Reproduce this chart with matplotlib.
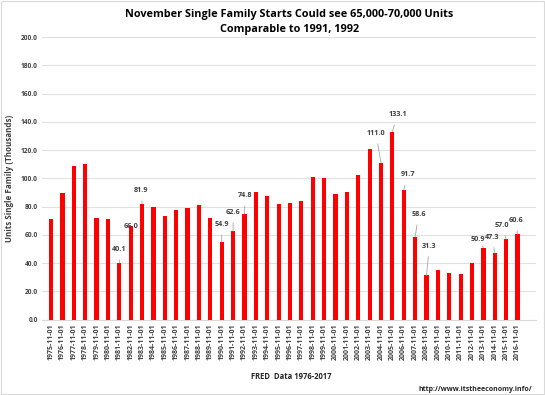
import numpy as np
import matplotlib
matplotlib.use('Agg')
import matplotlib.pyplot as plt
from matplotlib.patches import Rectangle

plt.rcParams['font.family'] = ['Open Sans', 'DejaVu Sans']

# November single family starts (thousands), FRED
years = list(range(1975, 2017))
dates = ["%d-11-01" % y for y in years]
starts = [71.3, 89.3, 108.9, 110.1, 71.8, 70.9, 40.1, 66.0, 81.9, 79.6,
          73.0, 77.3, 79.1, 80.8, 71.6, 54.9, 62.6, 74.8, 90.5, 87.6,
          81.7, 82.4, 83.9, 101.1, 100.4, 88.6, 90.5, 102.3, 120.5, 111.0,
          133.1, 91.7, 58.6, 31.3, 35.0, 32.8, 32.6, 39.9, 50.9, 47.3,
          57.0, 60.6]

# labelled bars: index -> (label x, label y) in data coords
label_idx = [6, 7, 8, 15, 16, 17, 29, 30, 31, 32, 33, 38, 39, 40, 41]
label_x = [6.0, 7.0, 7.9, 15.0, 16.0, 17.05, 28.55, 30.45, 31.35, 32.3,
           33.25, 37.5, 38.75, 39.6, 40.85]
label_y = [49.6, 66.1, 91.4, 67.3, 76.0, 87.9, 131.8, 145.1, 102.5, 74.4,
           52.0, 56.5, 58.4, 66.6, 70.2]

fig = plt.figure(figsize=(5.45, 3.95), dpi=100)
ax = fig.add_axes([0.077, 0.191, 0.906, 0.715])
fig.patches.append(Rectangle((0.002, 0.002), 0.996, 0.996, transform=fig.transFigure,
                             fill=False, edgecolor='#d9d9d9', linewidth=0.8))

x = np.arange(len(starts))
ax.bar(x, starts, width=0.37, color='#ff0000', zorder=3)

for i, lx, ly in zip(label_idx, label_x, label_y):
    v = starts[i]
    txt = "%.1f" % v
    if abs(ly - v) < 2:
        ax.text(lx, ly, txt, ha='center', va='center', fontsize=5.2,
                fontweight='bold', color='#404040', zorder=4)
    else:
        ax.annotate(txt, xy=(i, v), xytext=(lx, ly), ha='center', va='center',
                    fontsize=5.2, fontweight='bold', color='#404040', zorder=4,
                    arrowprops=dict(arrowstyle='-', color='#a6a6a6', lw=0.6,
                                    shrinkA=3, shrinkB=0))

ax.set_xlim(-0.8, 42.6)
ax.set_ylim(0, 200)
ax.set_yticks(np.arange(0, 201, 20))
ax.set_yticklabels(["%.1f" % v for v in np.arange(0, 201, 20)], fontsize=4.8,
                   fontweight='bold', color='#404040')
ax.set_xticks(x)
ax.set_xticklabels(dates, rotation=90, fontsize=5, fontweight='bold', color='#404040')
ax.tick_params(axis='both', length=0, pad=3)
ax.grid(axis='y', color='#e0e0e0', linewidth=0.8, zorder=0)
for s in ['top', 'right', 'left']:
    ax.spines[s].set_visible(False)
ax.spines['bottom'].set_color('#d9d9d9')
ax.spines['bottom'].set_linewidth(0.8)

ax.set_ylabel("Units Single Family (Thousands)", fontsize=5.8, fontweight='bold', color='#404040',
              labelpad=5)
fig.text(0.531, 0.977, "November Single Family Starts Could see 65,000-70,000 Units\nComparable to 1991, 1992",
         ha='center', va='top', fontsize=7.8, fontweight='bold', linespacing=1.5)
fig.text(0.535, 0.046, "FRED  Data 1976-2017", ha='center', va='center', fontsize=5.5,
         fontweight='bold', color='#262626')
fig.text(0.976, 0.013, "http://www.itstheeconomy.info/", ha='right', va='center', fontsize=5,
         fontweight='bold', color='#262626')

fig.savefig('out.png', dpi=100)
